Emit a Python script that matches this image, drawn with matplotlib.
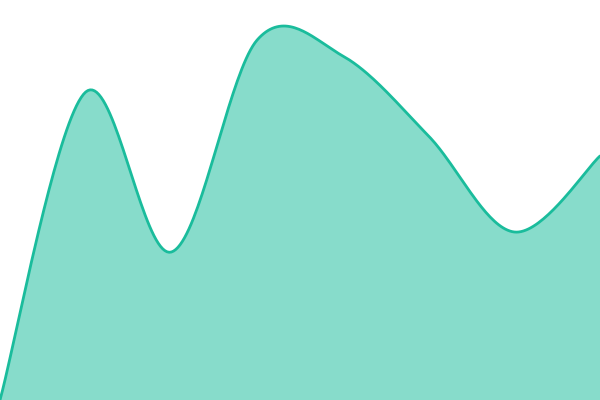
import numpy as np
import matplotlib
matplotlib.use("Agg")
import matplotlib.pyplot as plt

# data: 8 evenly spaced samples, smoothed with a cardinal (Catmull-Rom) spline
x_vals = [0, 1, 2, 3, 4, 5, 6, 7]
y_vals = [0, 77, 37, 90, 86, 66, 42, 61]

LINE_COLOR = "#1abc9c"


def catmull_rom(xs, ys, n=40):
    px = np.array(xs, dtype=float)
    py = np.array(ys, dtype=float)
    # duplicate end points like d3.curveCardinal
    px = np.concatenate([[px[0]], px, [px[-1]]])
    py = np.concatenate([[py[0]], py, [py[-1]]])
    out_x, out_y = [], []
    t = np.linspace(0, 1, n)
    h00 = 2 * t**3 - 3 * t**2 + 1
    h10 = t**3 - 2 * t**2 + t
    h01 = -2 * t**3 + 3 * t**2
    h11 = t**3 - t**2
    for i in range(1, len(px) - 2):
        mx0 = (px[i + 1] - px[i - 1]) / 2
        mx1 = (px[i + 2] - px[i]) / 2
        my0 = (py[i + 1] - py[i - 1]) / 2
        my1 = (py[i + 2] - py[i]) / 2
        out_x.extend(h00 * px[i] + h10 * mx0 + h01 * px[i + 1] + h11 * mx1)
        out_y.extend(h00 * py[i] + h10 * my0 + h01 * py[i + 1] + h11 * my1)
    return np.array(out_x), np.array(out_y)


sx, sy = catmull_rom(x_vals, y_vals)

fig = plt.figure(figsize=(6, 4), dpi=100)
ax = fig.add_axes([0, 0, 1, 1])
ax.fill_between(sx, sy, 0, color=LINE_COLOR, alpha=0.52, linewidth=0)
ax.plot(sx, sy, color=LINE_COLOR, linewidth=2.0, solid_capstyle="round")
ax.set_xlim(x_vals[0], x_vals[-1])
ax.set_ylim(0, 100)
ax.axis("off")

plt.savefig("out.png", dpi=100)
plt.close()
